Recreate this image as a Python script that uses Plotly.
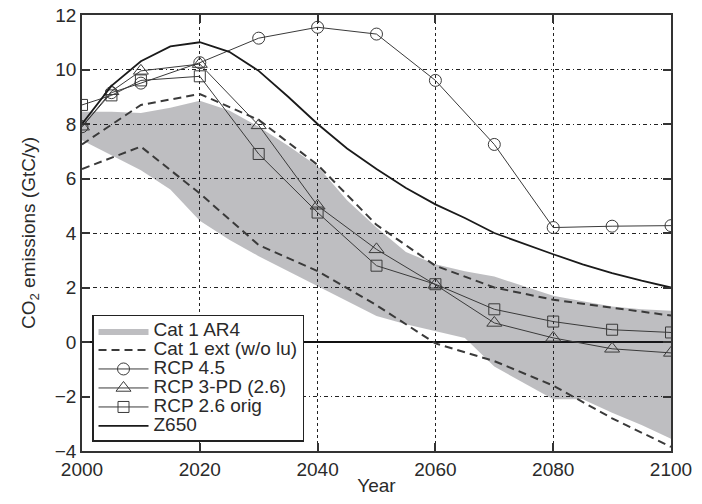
import plotly.graph_objects as go

# ---- data ----
band_years = [2000, 2005, 2010, 2015, 2020, 2025, 2030, 2035, 2040, 2045, 2050,
              2055, 2060, 2065, 2070, 2075, 2080, 2085, 2090, 2095, 2100]
band_upper = [8.45, 8.45, 8.4, 8.6, 8.85, 8.5, 7.9, 7.2, 6.45, 5.2, 4.2,
              3.3, 2.85, 2.6, 2.4, 2.05, 1.7, 1.5, 1.3, 1.2, 1.15]
band_lower = [7.4, 6.85, 6.3, 5.6, 4.45, 3.75, 3.15, 2.6, 2.05, 1.5, 0.95,
              0.65, 0.4, 0.15, -0.9, -1.5, -2.1, -2.1, -2.6, -3.05, -3.55]

ext_years = [2000, 2010, 2020, 2030, 2040, 2050, 2060, 2070, 2080, 2090, 2100]
ext_upper = [7.25, 8.7, 9.1, 8.15, 6.5, 4.3, 2.8, 2.0, 1.55, 1.25, 0.97]
ext_lower = [6.35, 7.17, 5.45, 3.56, 2.6, 1.35, -0.05, -0.7, -1.6, -2.8, -3.85]

rcp_years = [2000, 2005, 2010, 2020, 2030, 2040, 2050, 2060, 2070, 2080, 2090, 2100]
rcp45 = [7.9, 9.15, 9.5, 10.25, 11.15, 11.55, 11.3, 9.6, 7.25, 4.2, 4.25, 4.27]
rcp3pd = [7.9, 9.2, 9.95, 10.2, 7.95, 5.0, 3.4, 2.1, 0.7, 0.15, -0.25, -0.4]
rcp26 = [8.7, 9.05, 9.6, 9.75, 6.9, 4.75, 2.8, 2.12, 1.2, 0.75, 0.45, 0.35]

z650_years = [2000, 2005, 2010, 2015, 2020, 2025, 2030, 2035, 2040, 2045, 2050,
              2055, 2060, 2065, 2070, 2075, 2080, 2085, 2090, 2095, 2100]
z650 = [8.0, 9.4, 10.3, 10.85, 11.0, 10.65, 9.95, 9.0, 8.0, 7.1, 6.35,
        5.65, 5.05, 4.55, 4.0, 3.6, 3.22, 2.85, 2.53, 2.25, 2.0]

x_ticks = [2000, 2020, 2040, 2060, 2080, 2100]
y_ticks = [-4, -2, 0, 2, 4, 6, 8, 10, 12]

FONT = "Liberation Sans, Arial, Helvetica, sans-serif"
LINE = "#3a3a3a"
TXT = "#2a2a2a"


def lg(name):
    return '<span style="font-size:19px">' + name + '</span>'


fig = go.Figure()

fig.add_trace(go.Scatter(
    x=band_years + band_years[::-1],
    y=band_upper + band_lower[::-1],
    fill="toself", fillcolor="rgba(40,40,50,0.30)",
    line=dict(width=0), mode="lines", name=lg("Cat 1 AR4"), hoverinfo="skip"))

fig.add_trace(go.Scatter(
    x=ext_years, y=ext_upper, mode="lines", name=lg("Cat 1 ext (w/o lu)"),
    line=dict(color=LINE, width=2, dash="8px,5px"), legendgroup="ext"))
fig.add_trace(go.Scatter(
    x=ext_years, y=ext_lower, mode="lines", name=lg("Cat 1 ext (w/o lu)"),
    line=dict(color=LINE, width=2, dash="8px,5px"), legendgroup="ext",
    showlegend=False))

fig.add_trace(go.Scatter(
    x=rcp_years, y=rcp45, mode="lines+markers", name=lg("RCP 4.5"),
    line=dict(color=LINE, width=1),
    marker=dict(symbol="circle-open", size=12, color=LINE, line=dict(width=1, color=LINE))))
fig.add_trace(go.Scatter(
    x=rcp_years, y=rcp3pd, mode="lines+markers", name=lg("RCP 3-PD (2.6)"),
    line=dict(color=LINE, width=1),
    marker=dict(symbol="triangle-up-open", size=13, color=LINE, line=dict(width=1, color=LINE))))
fig.add_trace(go.Scatter(
    x=rcp_years, y=rcp26, mode="lines+markers", name=lg("RCP 2.6 orig"),
    line=dict(color=LINE, width=1),
    marker=dict(symbol="square-open", size=11, color=LINE, line=dict(width=1, color=LINE))))

fig.add_trace(go.Scatter(
    x=z650_years, y=z650, mode="lines", name=lg("Z650"),
    line=dict(color="#1a1a1a", width=1.8)))

axis_common = dict(
    showline=True, linecolor="#333", linewidth=1.5, mirror="ticks",
    ticks="inside", ticklen=8, tickwidth=1.5, tickcolor="#333",
    showgrid=True, gridcolor="#222", gridwidth=1, automargin=False,
    ticklabeloverflow="allow",
    tickfont=dict(family=FONT, size=19, color=TXT),
)

fig.update_xaxes(
    range=[2000, 2100], tickvals=x_ticks, griddash="3px,3px",
    zeroline=False,
    title=dict(text="Year", font=dict(family=FONT, size=19, color=TXT), standoff=2),
    **axis_common)
fig.update_yaxes(
    range=[-4, 12], tickvals=y_ticks, griddash="4px,3px,1px,3px",
    zeroline=True, zerolinecolor="#111", zerolinewidth=2,
    title=dict(text="CO<sub>2</sub> emissions (GtC/y)",
               font=dict(family=FONT, size=19, color=TXT), standoff=14),
    **axis_common)

# the page body adds an 8px margin, so the figure is sized to fit inside it
fig.update_layout(
    width=686, height=488,
    margin=dict(l=74, r=23, t=7, b=45),
    paper_bgcolor="white", plot_bgcolor="white",
    font=dict(family=FONT, size=19, color=TXT),
    legend=dict(x=0.017, y=0.312, xanchor="left", yanchor="top",
                bgcolor="white", bordercolor="#222", borderwidth=1.5,
                font=dict(family=FONT, size=12, color=TXT),
                itemwidth=50, tracegroupgap=0),
    showlegend=True,
)

fig.write_html("out.html")
